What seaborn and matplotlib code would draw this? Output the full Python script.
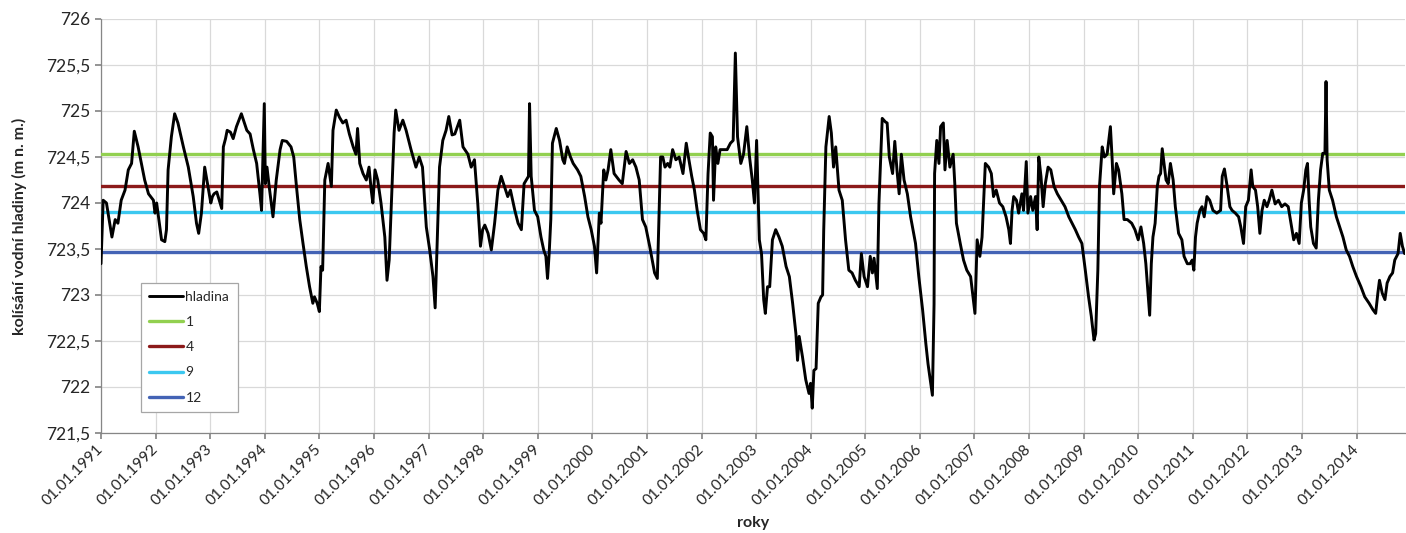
import pandas as pd
import seaborn as sns
import matplotlib
matplotlib.use("Agg")
import matplotlib.pyplot as plt
import matplotlib.dates as mdates
from matplotlib.ticker import MultipleLocator, FuncFormatter

# time as decimal year, water level in m n. m.
t_years = [
    1991.00, 1991.04, 1991.10, 1991.20, 1991.26, 1991.31, 1991.37, 1991.44, 1991.50, 1991.56,
    1991.61, 1991.68, 1991.80, 1991.87, 1991.96, 1991.99, 1992.02, 1992.11, 1992.17, 1992.20,
    1992.23, 1992.29, 1992.35, 1992.41, 1992.51, 1992.60, 1992.69, 1992.75, 1992.79, 1992.84,
    1992.90, 1992.96, 1993.01, 1993.04, 1993.07, 1993.12, 1993.21, 1993.24, 1993.28, 1993.31,
    1993.37, 1993.42, 1993.48, 1993.57, 1993.67, 1993.73, 1993.79, 1993.85, 1993.91, 1993.94,
    1993.99, 1994.01, 1994.04, 1994.08, 1994.15, 1994.21, 1994.28, 1994.32, 1994.40, 1994.48,
    1994.53, 1994.58, 1994.64, 1994.70, 1994.76, 1994.82, 1994.88, 1994.91, 1994.96, 1995.00,
    1995.03, 1995.06, 1995.10, 1995.16, 1995.22, 1995.25, 1995.31, 1995.37, 1995.43, 1995.49,
    1995.55, 1995.62, 1995.67, 1995.70, 1995.74, 1995.80, 1995.86, 1995.91, 1995.95, 1995.98,
    1996.02, 1996.07, 1996.13, 1996.20, 1996.24, 1996.28, 1996.32, 1996.37, 1996.40, 1996.46,
    1996.53, 1996.59, 1996.68, 1996.77, 1996.83, 1996.89, 1996.96, 1997.02, 1997.08, 1997.12,
    1997.16, 1997.20, 1997.26, 1997.32, 1997.37, 1997.43, 1997.48, 1997.57, 1997.63, 1997.72,
    1997.78, 1997.84, 1997.90, 1997.95, 1997.99, 1998.03, 1998.09, 1998.15, 1998.21, 1998.27,
    1998.33, 1998.39, 1998.45, 1998.50, 1998.58, 1998.64, 1998.70, 1998.75, 1998.79, 1998.83,
    1998.85, 1998.88, 1998.94, 1999.00, 1999.06, 1999.11, 1999.15, 1999.18, 1999.21, 1999.24,
    1999.27, 1999.34, 1999.40, 1999.46, 1999.49, 1999.54, 1999.60, 1999.65, 1999.73, 1999.79,
    1999.86, 1999.92, 1999.98, 2000.04, 2000.08, 2000.13, 2000.16, 2000.21, 2000.25, 2000.29,
    2000.34, 2000.40, 2000.49, 2000.55, 2000.62, 2000.68, 2000.74, 2000.80, 2000.86, 2000.92,
    2000.98, 2001.05, 2001.11, 2001.14, 2001.19, 2001.22, 2001.25, 2001.29, 2001.33, 2001.38,
    2001.42, 2001.47, 2001.53, 2001.59, 2001.66, 2001.72, 2001.76, 2001.82, 2001.87, 2001.92,
    2001.98, 2002.04, 2002.08, 2002.12, 2002.16, 2002.20, 2002.22, 2002.26, 2002.30, 2002.34,
    2002.41, 2002.47, 2002.53, 2002.58, 2002.62, 2002.66, 2002.72, 2002.77, 2002.83, 2002.88,
    2002.93, 2002.97, 2003.01, 2003.06, 2003.10, 2003.14, 2003.17, 2003.21, 2003.25, 2003.30,
    2003.36, 2003.42, 2003.48, 2003.55, 2003.61, 2003.67, 2003.73, 2003.76, 2003.79, 2003.85,
    2003.91, 2003.97, 2004.00, 2004.03, 2004.06, 2004.10, 2004.14, 2004.19, 2004.22, 2004.24,
    2004.28, 2004.34, 2004.38, 2004.42, 2004.46, 2004.52, 2004.58, 2004.64, 2004.70, 2004.76,
    2004.82, 2004.89, 2004.93, 2004.98, 2005.04, 2005.09, 2005.13, 2005.16, 2005.22, 2005.25,
    2005.31, 2005.37, 2005.40, 2005.44, 2005.50, 2005.54, 2005.58, 2005.62, 2005.66, 2005.71,
    2005.77, 2005.83, 2005.92, 2005.98, 2006.05, 2006.11, 2006.15, 2006.20, 2006.23, 2006.26,
    2006.27, 2006.31, 2006.35, 2006.38, 2006.43, 2006.46, 2006.50, 2006.55, 2006.61, 2006.64,
    2006.67, 2006.74, 2006.80, 2006.86, 2006.93, 2007.01, 2007.05, 2007.10, 2007.14, 2007.20,
    2007.26, 2007.31, 2007.35, 2007.40, 2007.46, 2007.52, 2007.58, 2007.63, 2007.66, 2007.69,
    2007.72, 2007.77, 2007.81, 2007.87, 2007.90, 2007.95, 2007.98, 2008.03, 2008.07, 2008.12,
    2008.15, 2008.18, 2008.22, 2008.26, 2008.30, 2008.35, 2008.40, 2008.46, 2008.52, 2008.59,
    2008.66, 2008.73, 2008.79, 2008.85, 2008.91, 2008.97, 2009.03, 2009.09, 2009.14, 2009.19,
    2009.22, 2009.26, 2009.29, 2009.34, 2009.38, 2009.43, 2009.49, 2009.52, 2009.55, 2009.60,
    2009.64, 2009.70, 2009.74, 2009.80, 2009.88, 2009.94, 2010.00, 2010.05, 2010.10, 2010.14,
    2010.17, 2010.21, 2010.24, 2010.27, 2010.31, 2010.35, 2010.38, 2010.41, 2010.44, 2010.48,
    2010.51, 2010.55, 2010.59, 2010.64, 2010.68, 2010.74, 2010.80, 2010.84, 2010.90, 2010.95,
    2010.99, 2011.02, 2011.05, 2011.08, 2011.13, 2011.17, 2011.21, 2011.26, 2011.31, 2011.37,
    2011.44, 2011.51, 2011.54, 2011.58, 2011.63, 2011.68, 2011.72, 2011.78, 2011.84, 2011.88,
    2011.93, 2011.97, 2012.02, 2012.07, 2012.10, 2012.15, 2012.19, 2012.23, 2012.27, 2012.31,
    2012.36, 2012.40, 2012.45, 2012.51, 2012.57, 2012.63, 2012.69, 2012.75, 2012.81, 2012.85,
    2012.90, 2012.95, 2012.99, 2013.03, 2013.07, 2013.10, 2013.13, 2013.16, 2013.21, 2013.26,
    2013.30, 2013.34, 2013.38, 2013.42, 2013.44, 2013.46, 2013.50, 2013.56, 2013.63, 2013.69,
    2013.75, 2013.81, 2013.87, 2013.93, 2014.00, 2014.08, 2014.15, 2014.23, 2014.30, 2014.35,
    2014.39, 2014.42, 2014.47, 2014.52, 2014.56, 2014.61, 2014.66, 2014.70, 2014.76, 2014.80,
    2014.84, 2014.88,
]

hladina = [
    723.34, 724.03, 724.00, 723.63, 723.82, 723.78, 724.03, 724.14, 724.36, 724.43,
    724.78, 724.61, 724.25, 724.10, 724.03, 723.89, 724.00, 723.60, 723.58, 723.71,
    724.36, 724.72, 724.97, 724.87, 724.61, 724.39, 724.07, 723.78, 723.67, 723.89,
    724.39, 724.18, 724.00, 724.07, 724.10, 724.12, 723.94, 724.61, 724.70, 724.79,
    724.77, 724.70, 724.83, 724.97, 724.79, 724.75, 724.58, 724.43, 724.10, 723.92,
    725.08, 724.21, 724.39, 724.18, 723.85, 724.25, 724.58, 724.68, 724.67, 724.61,
    724.50, 724.18, 723.82, 723.56, 723.31, 723.09, 722.91, 722.98, 722.91, 722.82,
    723.31, 723.27, 724.25, 724.43, 724.18, 724.79, 725.01, 724.93, 724.87, 724.90,
    724.75, 724.61, 724.53, 724.81, 724.43, 724.32, 724.25, 724.39, 724.14, 724.00,
    724.36, 724.25, 724.00, 723.63, 723.16, 723.38, 724.00, 724.76, 725.01, 724.79,
    724.90, 724.79, 724.58, 724.39, 724.50, 724.39, 723.74, 723.49, 723.20, 722.86,
    723.63, 724.39, 724.68, 724.79, 724.94, 724.74, 724.75, 724.90, 724.61, 724.53,
    724.39, 724.47, 724.00, 723.53, 723.71, 723.76, 723.67, 723.49, 723.78, 724.14,
    724.29, 724.18, 724.07, 724.14, 723.92, 723.78, 723.71, 724.21, 724.25, 724.29,
    725.08, 724.29, 723.92, 723.85, 723.63, 723.49, 723.42, 723.18, 723.45, 723.82,
    724.65, 724.81, 724.68, 724.47, 724.43, 724.61, 724.50, 724.43, 724.36, 724.29,
    724.07, 723.85, 723.71, 723.53, 723.24, 723.89, 723.78, 724.36, 724.25, 724.36,
    724.58, 724.32, 724.25, 724.21, 724.56, 724.43, 724.47, 724.39, 724.25, 723.82,
    723.74, 723.53, 723.34, 723.24, 723.18, 723.82, 724.50, 724.50, 724.39, 724.43,
    724.39, 724.58, 724.47, 724.50, 724.32, 724.65, 724.50, 724.29, 724.14, 723.92,
    723.71, 723.67, 723.60, 724.32, 724.76, 724.72, 724.03, 724.61, 724.43, 724.58,
    724.58, 724.58, 724.65, 724.68, 725.63, 724.72, 724.43, 724.53, 724.83, 724.50,
    724.25, 724.00, 724.68, 723.60, 723.45, 722.95, 722.80, 723.09, 723.09, 723.60,
    723.71, 723.63, 723.53, 723.31, 723.20, 722.91, 722.58, 722.29, 722.55, 722.33,
    722.08, 721.93, 722.04, 721.77, 722.18, 722.20, 722.91, 722.98, 723.00, 723.70,
    724.61, 724.94, 724.76, 724.39, 724.61, 724.14, 724.03, 723.60, 723.27, 723.24,
    723.16, 723.09, 723.45, 723.20, 723.09, 723.42, 723.24, 723.40, 723.07, 724.00,
    724.92, 724.88, 724.87, 724.50, 724.32, 724.67, 724.36, 724.10, 724.53, 724.25,
    724.10, 723.85, 723.56, 723.20, 722.84, 722.47, 722.25, 722.04, 721.91, 722.90,
    724.32, 724.68, 724.43, 724.83, 724.87, 724.36, 724.68, 724.39, 724.53, 724.21,
    723.78, 723.56, 723.38, 723.27, 723.20, 722.80, 723.60, 723.42, 723.63, 724.43,
    724.39, 724.32, 724.07, 724.14, 724.00, 723.96, 723.85, 723.71, 723.56, 723.92,
    724.07, 724.03, 723.89, 724.10, 723.92, 724.45, 723.89, 724.07, 723.92, 724.07,
    723.71, 724.50, 724.29, 723.96, 724.21, 724.39, 724.36, 724.18, 724.10, 724.03,
    723.96, 723.85, 723.78, 723.71, 723.63, 723.56, 723.27, 722.98, 722.77, 722.51,
    722.58, 723.27, 724.18, 724.61, 724.50, 724.53, 724.83, 724.50, 724.10, 724.43,
    724.36, 724.10, 723.82, 723.82, 723.78, 723.71, 723.60, 723.74, 723.56, 723.34,
    723.10, 722.78, 723.34, 723.63, 723.78, 724.18, 724.29, 724.32, 724.59, 724.39,
    724.25, 724.21, 724.43, 724.25, 723.96, 723.67, 723.60, 723.42, 723.34, 723.34,
    723.38, 723.27, 723.63, 723.78, 723.92, 723.96, 723.85, 724.07, 724.03, 723.92,
    723.89, 723.92, 724.29, 724.37, 724.18, 723.96, 723.92, 723.89, 723.85, 723.74,
    723.56, 723.96, 724.03, 724.36, 724.18, 724.14, 723.96, 723.67, 723.92, 724.03,
    723.96, 724.03, 724.14, 723.99, 724.03, 723.96, 723.99, 723.96, 723.74, 723.60,
    723.67, 723.56, 724.00, 724.14, 724.36, 724.43, 724.03, 723.74, 723.56, 723.51,
    724.03, 724.36, 724.54, 724.54, 725.32, 724.47, 724.14, 724.03, 723.85, 723.74,
    723.63, 723.49, 723.42, 723.31, 723.20, 723.09, 722.98, 722.91, 722.84, 722.80,
    723.02, 723.16, 723.02, 722.95, 723.13, 723.20, 723.24, 723.38, 723.45, 723.67,
    723.53, 723.45,
]

# reference levels
level_names = ["1", "4", "9", "12"]
level_values = [724.53, 724.185, 723.90, 723.47]
level_colors = ["#92D050", "#8C1A1A", "#3CC8F0", "#4363B5"]

dates = [pd.Timestamp(int(t), 1, 1) + pd.Timedelta(days=(t - int(t)) * 365.25) for t in t_years]
df = pd.DataFrame({"datum": dates, "hladina": hladina})

sns.set_theme(style="whitegrid")
plt.rcParams["font.family"] = ["Lato", "DejaVu Sans"]

fig, ax = plt.subplots(figsize=(14.06, 5.33), dpi=100)
fig.subplots_adjust(left=101 / 1406, right=0.999, top=1 - 19 / 533, bottom=1 - 433 / 533)

sns.lineplot(data=df, x="datum", y="hladina", color="black", linewidth=2.1,
             estimator=None, sort=False, label="hladina", ax=ax, zorder=5)
for name, val, col in zip(level_names, level_values, level_colors):
    ax.axhline(val, color=col, linewidth=2.4, label=name, zorder=4)

ax.set_xlim(df["datum"].iloc[0], df["datum"].iloc[-1])
ax.set_ylim(721.5, 726)
ax.yaxis.set_major_locator(MultipleLocator(0.5))
ax.yaxis.set_major_formatter(FuncFormatter(lambda v, p: f"{v:g}".replace(".", ",")))
ax.xaxis.set_major_locator(mdates.YearLocator())
ax.xaxis.set_major_formatter(mdates.DateFormatter("%d.%m.%Y"))

ax.grid(True, color="#D9D9D9", linewidth=0.9)
ax.set_facecolor("white")
for s in ["top", "right"]:
    ax.spines[s].set_visible(False)
for s in ["left", "bottom"]:
    ax.spines[s].set_color("#868686")
    ax.spines[s].set_linewidth(0.9)

ax.tick_params(axis="y", labelsize=12.5, length=4, color="#868686", left=True, pad=4)
ax.tick_params(axis="x", labelsize=11.2, length=4, color="#868686", bottom=True, pad=6)
plt.setp(ax.get_xticklabels(), rotation=45, ha="right", va="center", rotation_mode="anchor")

ax.set_xlabel("roky", fontsize=11.5, fontweight="bold")
ax.set_ylabel("kolísání vodní hladiny (m n. m.)", fontsize=11.5, fontweight="bold")
ax.xaxis.set_label_coords(0.5, -0.2)
ax.yaxis.set_label_coords(-0.057, 0.5)

leg = ax.legend(loc="lower left", bbox_to_anchor=(0.0307, 0.0507), borderaxespad=0,
                fontsize=10, frameon=True, fancybox=False, framealpha=1, edgecolor="#A6A6A6",
                handlelength=2.4, labelspacing=0.95, borderpad=0.6, handletextpad=0.2)
leg.get_frame().set_linewidth(0.9)

fig.savefig("out.png", dpi=100, facecolor="white")
